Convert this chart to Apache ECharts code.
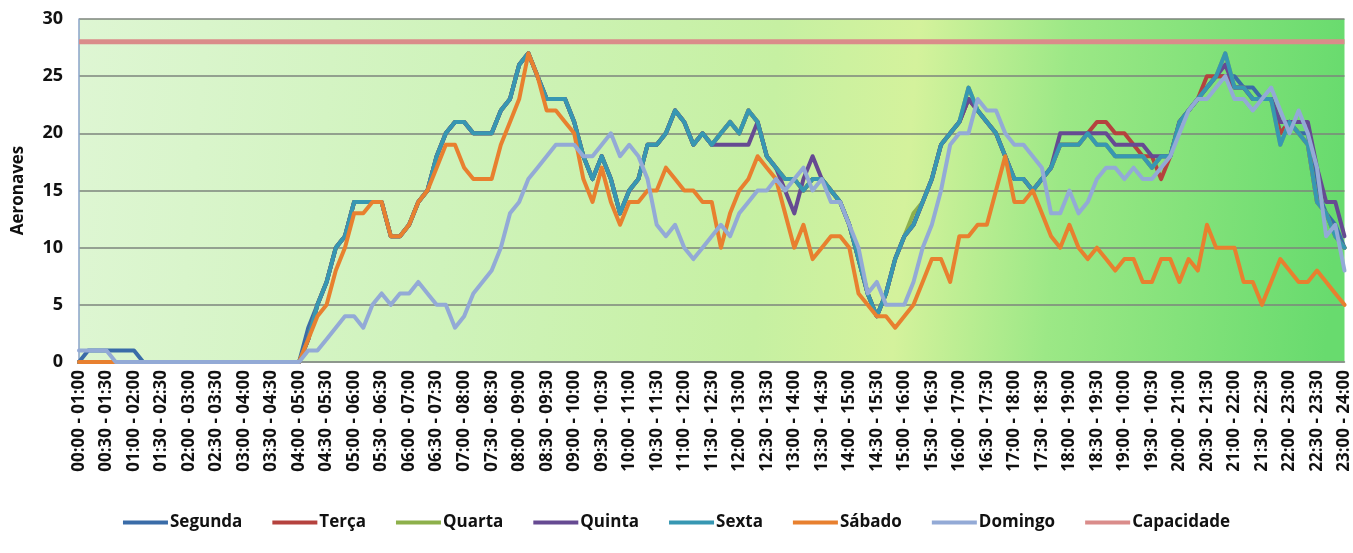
<!DOCTYPE html>
<html>
<head>
<meta charset="utf-8">
<script src="https://cdn.jsdelivr.net/npm/echarts@6/dist/echarts.min.js"></script>
<style>
  html, body { margin: 0; padding: 0; background: #ffffff; }
  #chart { width: 1353px; height: 553px; }
</style>
</head>
<body>
<div id="chart"></div>
<script>
// Half-hour window labels (one per 30 min, as printed on the axis)
const slotLabels = [
  '00:00 - 01:00','00:30 - 01:30','01:00 - 02:00','01:30 - 02:30','02:00 - 03:00','02:30 - 03:30',
  '03:00 - 04:00','03:30 - 04:30','04:00 - 05:00','04:30 - 05:30','05:00 - 06:00','05:30 - 06:30',
  '06:00 - 07:00','06:30 - 07:30','07:00 - 08:00','07:30 - 08:30','08:00 - 09:00','08:30 - 09:30',
  '09:00 - 10:00','09:30 - 10:30','10:00 - 11:00','10:30 - 11:30','11:00 - 12:00','11:30 - 12:30',
  '12:00 - 13:00','12:30 - 13:30','13:00 - 14:00','13:30 - 14:30','14:00 - 15:00','14:30 - 15:30',
  '15:00 - 16:00','15:30 - 16:30','16:00 - 17:00','16:30 - 17:30','17:00 - 18:00','17:30 - 18:30',
  '18:00 - 19:00','18:30 - 19:30','19:00 - 10:00','19:30 - 10:30','20:00 - 21:00','20:30 - 21:30',
  '21:00 - 22:00','21:30 - 22:30','22:00 - 23:00','22:30 - 23:30','23:00 - 24:00'
];
// samples every 10 minutes: 3 per labelled half hour
const stepsPerSlot = 3;

// Aircraft counts in the rolling one-hour window, sampled every 10 min (00:00 .. 23:00)
const segunda = [
  0,1,1,1,1,1,1,0,0,0,0,0,0,0,0,0,0,0,0,0,0,0,0,0,
  0,3,5,7,10,11,14,14,14,14,
  11,11,12,14,15,18,20,21,21,20,
  20,20,22,23,26,27,25,23,23,23,
  21,18,16,18,16,13,15,16,19,19,
  20,22,21,19,20,19,20,21,20,22,
  21,18,17,16,16,15,16,16,15,14,
  12,9,6,4,6,9,11,12,14,16,
  19,20,21,23,22,21,20,18,16,16,
  15,16,17,19,19,19,20,19,19,18,
  18,18,18,17,18,18,21,22,23,24,
  25,25,25,24,24,23,23,20,21,20,
  20,15,13,12,10
];
const terca = [
  0,0,0,0,0,0,0,0,0,0,0,0,0,0,0,0,0,0,0,0,0,0,0,0,
  0,2,5,7,10,11,14,14,14,14,
  11,11,12,14,15,18,20,21,21,20,
  20,20,22,23,26,27,25,23,23,23,
  21,18,16,18,16,13,15,16,19,19,
  20,22,21,19,20,19,20,21,20,22,
  21,18,17,16,16,15,16,16,15,14,
  12,9,6,4,6,9,11,12,14,16,
  19,20,21,23,22,21,20,18,16,16,
  15,16,17,19,19,19,20,21,21,20,
  20,19,18,18,16,18,21,22,23,25,
  25,25,24,24,23,23,23,20,21,20,
  19,14,13,11,10
];
const quarta = [
  0,0,0,0,0,0,0,0,0,0,0,0,0,0,0,0,0,0,0,0,0,0,0,0,
  0,2,5,7,10,11,14,14,14,14,
  11,11,12,14,15,18,20,21,21,20,
  20,20,22,23,26,27,25,23,23,23,
  21,18,16,18,16,13,15,16,19,19,
  20,22,21,19,20,19,20,21,20,22,
  21,18,17,16,16,15,16,16,15,14,
  12,9,6,4,6,9,11,13,14,16,
  19,20,21,24,22,21,20,18,16,16,
  15,16,17,19,19,19,20,19,19,18,
  18,18,18,17,18,18,21,22,23,24,
  25,27,24,24,23,23,23,19,21,20,
  19,14,13,11,10
];
const quinta = [
  0,0,0,0,0,0,0,0,0,0,0,0,0,0,0,0,0,0,0,0,0,0,0,0,
  0,2,5,7,10,11,14,14,14,14,
  11,11,12,14,15,18,20,21,21,20,
  20,20,22,23,26,27,25,23,23,23,
  21,18,16,18,16,13,15,16,19,19,
  20,22,21,19,20,19,19,19,19,19,
  21,18,17,15,13,16,18,16,15,14,
  12,9,6,4,6,9,11,12,14,16,
  19,20,21,23,22,21,20,18,16,16,
  15,16,17,20,20,20,20,20,20,19,
  19,19,19,18,18,18,21,22,23,24,
  25,26,24,24,23,23,23,21,21,21,
  21,17,14,14,11
];
const sexta = [
  0,0,0,0,0,0,0,0,0,0,0,0,0,0,0,0,0,0,0,0,0,0,0,0,
  0,2,5,7,10,11,14,14,14,14,
  11,11,12,14,15,18,20,21,21,20,
  20,20,22,23,26,27,25,23,23,23,
  21,18,16,18,16,13,15,16,19,19,
  20,22,21,19,20,19,20,21,20,22,
  21,18,17,16,16,15,16,16,15,14,
  12,9,6,4,6,9,11,12,14,16,
  19,20,21,24,22,21,20,18,16,16,
  15,16,17,19,19,19,20,19,19,18,
  18,18,18,17,18,18,21,22,23,24,
  25,27,24,24,23,23,23,19,21,20,
  19,14,13,11,10
];
const sabado = [
  0,0,0,0,0,0,0,0,0,0,0,0,0,0,0,0,0,0,0,0,0,0,0,0,
  0,2,4,5,8,10,13,13,14,14,
  11,11,12,14,15,17,19,19,17,16,
  16,16,19,21,23,27,25,22,22,21,
  20,16,14,17,14,12,14,14,15,15,
  17,16,15,15,14,14,10,13,15,16,
  18,17,16,13,10,12,9,10,11,11,
  10,6,5,4,4,3,4,5,7,9,
  9,7,11,11,12,12,15,18,14,14,
  15,13,11,10,12,10,9,10,9,8,
  9,9,7,7,9,9,7,9,8,12,
  10,10,10,7,7,5,7,9,8,7,
  7,8,7,6,5
];
const domingo = [
  1,1,1,1,0,0,0,0,0,0,0,0,0,0,0,0,0,0,0,0,0,0,0,0,
  0,1,1,2,3,4,4,3,5,6,
  5,6,6,7,6,5,5,3,4,6,
  7,8,10,13,14,16,17,18,19,19,
  19,18,18,19,20,18,19,18,16,12,
  11,12,10,9,10,11,12,11,13,14,
  15,15,16,15,16,17,15,16,14,14,
  12,10,6,7,5,5,5,7,10,12,
  15,19,20,20,23,22,22,20,19,19,
  18,17,13,13,15,13,14,16,17,17,
  16,17,16,16,17,18,20,22,23,23,
  24,25,23,23,22,23,24,22,20,22,
  20,17,11,12,8
];
// Capacity ceiling for the sector
const capacidade = 28;

const seriesNames = ['Segunda','Terça','Quarta','Quinta','Sexta','Sábado','Domingo','Capacidade'];
const seriesColors = ['#3A6CA8','#B5423E','#8DB04B','#664A92','#3797B2','#E8802F','#93AAD6','#DA8C8A'];

const nPoints = sexta.length;
const categories = [];
for (let i = 0; i < nPoints; i++) categories.push(String(i));

const dayData = [segunda, terca, quarta, quinta, sexta, sabado, domingo];
const series = dayData.map((d, k) => ({
  name: seriesNames[k],
  type: 'line',
  data: d,
  showSymbol: false,
  symbol: 'none',
  lineStyle: { width: 4, color: seriesColors[k], join: 'round', cap: 'round' },
  itemStyle: { color: seriesColors[k] },
  z: 2 + k
}));
series.push({
  name: 'Capacidade',
  type: 'line',
  data: categories.map(() => capacidade),
  showSymbol: false,
  symbol: 'none',
  lineStyle: { width: 5, color: seriesColors[7] },
  itemStyle: { color: seriesColors[7] },
  z: 10
});

const chart = echarts.init(document.getElementById('chart'), null, { renderer: 'canvas' });
chart.setOption({
  animation: false,
  backgroundColor: '#ffffff',
  textStyle: { fontFamily: 'Open Sans, Lato, sans-serif' },
  grid: {
    left: 79, right: 6, top: 19, bottom: 191,
    show: true,
    borderWidth: 0,
    backgroundColor: new echarts.graphic.LinearGradient(0, 0, 1, 0.3, [
      { offset: 0.0, color: '#def6d3' },
      { offset: 0.3, color: '#cff3bb' },
      { offset: 0.55, color: '#c6f0a2' },
      { offset: 0.66, color: '#d4f29c' },
      { offset: 0.78, color: '#9ce886' },
      { offset: 1.0, color: '#68db6e' }
    ])
  },
  legend: {
    bottom: 17,
    left: 'center',
    icon: 'rect',
    itemWidth: 45,
    itemHeight: 4,
    itemGap: 30,
    data: seriesNames,
    textStyle: { fontSize: 17, fontWeight: 'bold', color: '#111', padding: [0, 0, 0, -3] }
  },
  xAxis: {
    type: 'category',
    boundaryGap: false,
    data: categories,
    axisLine: { show: true, lineStyle: { color: '#8a948a', width: 1.5 } },
    axisTick: { show: false },
    axisLabel: {
      interval: stepsPerSlot - 1,
      rotate: 90,
      fontSize: 17,
      fontWeight: 'bold',
      color: '#111',
      margin: 8,
      formatter: (v, idx) => slotLabels[Math.round(idx / stepsPerSlot)]
    },
    splitLine: { show: false }
  },
  yAxis: {
    type: 'value',
    min: 0, max: 30, interval: 5,
    name: 'Aeronaves',
    nameLocation: 'middle',
    nameRotate: 90,
    nameGap: 52,
    nameTextStyle: { fontSize: 17, fontWeight: 'bold', color: '#111' },
    axisLine: { show: true, lineStyle: { color: '#8aa3c8', width: 1.5 } },
    axisTick: { show: false },
    axisLabel: { fontSize: 18, fontWeight: 'bold', color: '#111', margin: 16 },
    splitLine: { show: true, lineStyle: { color: '#7c857c', width: 1.5 } }
  },
  series: series
});
</script>
</body>
</html>
